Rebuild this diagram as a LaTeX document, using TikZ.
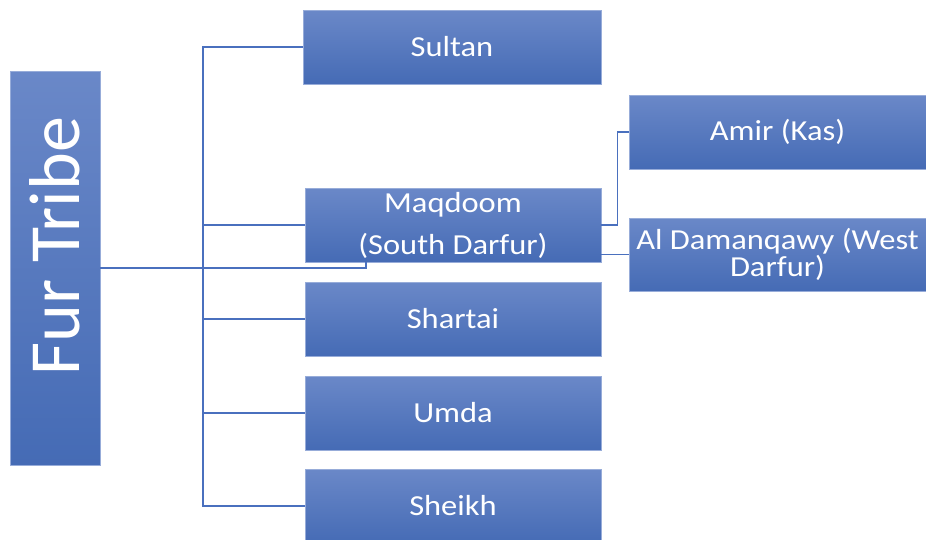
\documentclass[tikz,border=0pt]{standalone}
\usepackage{fontspec}
\setmainfont{Carlito}
\newfontfamily\kutuFont[FakeStretch=1.12]{Carlito}
\usepackage{tikz}
\usetikzlibrary{calc}
\definecolor{kutuUst}{HTML}{6A88C8}
\definecolor{kutuAlt}{HTML}{456BB5}
\definecolor{cizgiMavi}{HTML}{4A70BE}
\tikzset{
  kutu/.style={rectangle, top color=kutuUst, bottom color=kutuAlt, draw=kutuUst!70!white, line width=0.6pt,
    text=white, align=center, inner sep=0pt, font=\kutuFont\fontsize{29}{42}\selectfont},
  baglanti/.style={draw=cizgiMavi, line width=1.3pt}
}
\begin{document}
\begin{tikzpicture}[x=1pt,y=-1pt]
\useasboundingbox (0,0) rectangle (926,539);
\node[kutu, minimum width=90, minimum height=394] (fur) at (55,268)
  {\rotatebox{90}{\hspace*{44pt}\fontsize{72}{74}\selectfont\addfontfeature{FakeStretch=1}Fur Tribe}};
\node[kutu, minimum width=298, minimum height=74] (sultan) at (452,47) {Sultan};
\node[kutu, minimum width=296, minimum height=74] (maqdoom) at (453,225) {Maqdoom\\(South Darfur)};
\node[kutu, minimum width=296, minimum height=74] (shartai) at (453,319) {Shartai};
\node[kutu, minimum width=296, minimum height=74] (umda) at (453,413) {Umda};
\node[kutu, minimum width=296, minimum height=74] (sheikh) at (453,506) {Sheikh};
\node[kutu, minimum width=297, minimum height=74] (amir) at (777.5,132) {Amir (Kas)};
\node[kutu, minimum width=297, minimum height=73, font=\kutuFont\fontsize{29}{27}\selectfont] (damanq) at (777.5,254.5)
  {Al Damanqawy (West\\Darfur)};
\coordinate (govde) at (203,0);
\draw[baglanti] (sultan.west) -| (govde |- sheikh.west) -- (sheikh.west);
\draw[baglanti] (maqdoom.west) -- (govde |- maqdoom.west);
\draw[baglanti] (shartai.west) -- (govde |- shartai.west);
\draw[baglanti] (umda.west) -- (govde |- umda.west);
\draw[baglanti] (fur.east) -| ([xshift=-87pt]maqdoom.south);
\draw[baglanti] (maqdoom.east) -- ++(16,0) |- (amir.west);
\draw[baglanti] (damanq.west -| maqdoom.east) -- (damanq.west);
\end{tikzpicture}
\end{document}
